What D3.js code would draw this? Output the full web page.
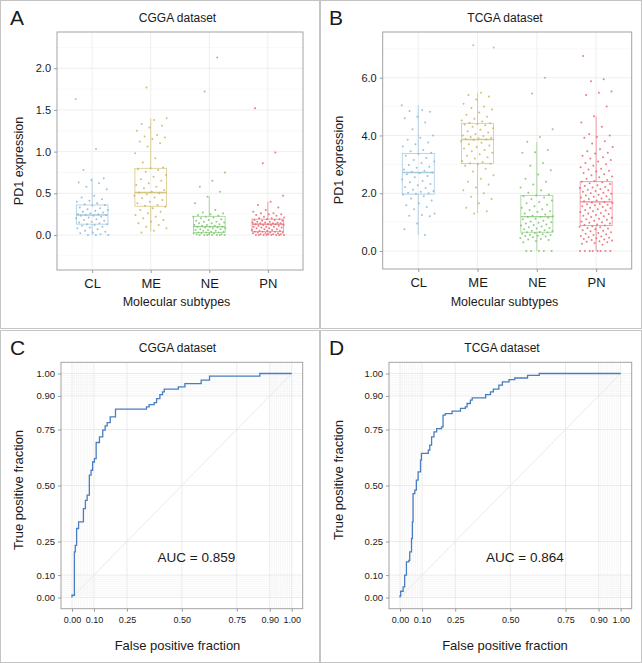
<!DOCTYPE html>
<html>
<head>
<meta charset="utf-8">
<script src="https://cdn.jsdelivr.net/npm/d3@7"></script>
<style>
body { margin: 0; background: #fff; }
svg { display: block; font-family: "Liberation Sans", Arial, sans-serif; }
</style>
</head>
<body>
<svg width="642" height="663"></svg>
<script>
// ---- data ----
var subtypes = ["CL", "ME", "NE", "PN"];
var subtypeColors = ["#8ab8d6", "#c9b65c", "#7dc46c", "#ea646f"];

// CGGA PD1 expression, one array per subtype
var cggaCL = [1.63, 1.03, 0.78, 0.68, 0.66, 0.63, 0.62, 0.58, 0.55, 0.47, 0.45, 0.43, 0.41, 0.40, 0.38, 0.37, 0.36,
  0.35, 0.33, 0.32, 0.31, 0.30, 0.29, 0.28, 0.27, 0.26, 0.25, 0.25, 0.24, 0.24, 0.23, 0.23, 0.22, 0.21, 0.20, 0.19,
  0.18, 0.17, 0.16, 0.15, 0.14, 0.13, 0.13, 0.12, 0.11, 0.10, 0.09, 0.08, 0.07, 0.05, 0.04, 0.03, 0.02, 0.01, 0.00,
  0.00, 0.00];
var cggaME = [1.77, 1.40, 1.38, 1.33, 1.31, 1.29, 1.25, 1.20, 1.18, 1.17, 1.15, 1.12, 1.10, 1.06, 0.98, 0.92, 0.87,
  0.81, 0.80, 0.79, 0.78, 0.76, 0.72, 0.70, 0.67, 0.65, 0.62, 0.60, 0.58, 0.56, 0.54, 0.52, 0.51, 0.50, 0.49, 0.47,
  0.45, 0.44, 0.42, 0.40, 0.38, 0.36, 0.35, 0.34, 0.32, 0.30, 0.28, 0.26, 0.24, 0.22, 0.20, 0.18, 0.16, 0.14, 0.12,
  0.10, 0.08, 0.05, 0.03];
var cggaNE = [2.13, 1.72, 0.75, 0.65, 0.58, 0.52, 0.46, 0.38, 0.30, 0.27, 0.26, 0.25, 0.24, 0.23, 0.22, 0.22, 0.21,
  0.20, 0.19, 0.18, 0.17, 0.16, 0.16, 0.15, 0.14, 0.14, 0.13, 0.12, 0.12, 0.11, 0.11, 0.10, 0.10, 0.10, 0.09, 0.09,
  0.08, 0.08, 0.07, 0.07, 0.06, 0.06, 0.05, 0.05, 0.04, 0.04, 0.03, 0.03, 0.03, 0.02, 0.02, 0.02, 0.01, 0.01, 0.01,
  0.00, 0.00, 0.00, 0.00, 0.00, 0.00, 0.00];
var cggaPN = [1.52, 0.99, 0.86, 0.47, 0.40, 0.36, 0.33, 0.30, 0.28, 0.26, 0.26, 0.25, 0.25, 0.24, 0.23, 0.22, 0.21,
  0.20, 0.20, 0.19, 0.19, 0.18, 0.18, 0.17, 0.17, 0.16, 0.16, 0.15, 0.15, 0.15, 0.14, 0.14, 0.14, 0.13, 0.13, 0.13,
  0.12, 0.12, 0.12, 0.11, 0.11, 0.10, 0.10, 0.10, 0.09, 0.09, 0.08, 0.08, 0.07, 0.07, 0.06, 0.06, 0.05, 0.05, 0.05,
  0.04, 0.04, 0.04, 0.03, 0.03, 0.03, 0.02, 0.02, 0.02, 0.01, 0.01, 0.01, 0.01, 0.00, 0.00, 0.00, 0.00, 0.00, 0.00,
  0.00, 0.00];

// TCGA PD1 expression
var tcgaCL = [5.05, 4.88, 4.85, 4.82, 4.65, 4.60, 4.45, 4.22, 4.00, 3.92, 3.85, 3.76, 3.70, 3.62, 3.50, 3.45, 3.40,
  3.36, 3.30, 3.22, 3.15, 3.10, 3.05, 2.98, 2.92, 2.88, 2.82, 2.78, 2.74, 2.72, 2.70, 2.66, 2.60, 2.55, 2.48, 2.42,
  2.38, 2.32, 2.28, 2.22, 2.18, 2.12, 2.08, 2.05, 2.02, 2.00, 1.98, 1.96, 1.90, 1.82, 1.75, 1.65, 1.58, 1.52, 1.45,
  1.30, 1.25, 1.22, 1.20, 0.95, 0.75, 0.55];
var tcgaME = [7.12, 7.05, 5.48, 5.40, 5.35, 5.25, 5.10, 5.00, 4.95, 4.90, 4.80, 4.72, 4.65, 4.58, 4.52, 4.48, 4.44,
  4.42, 4.40, 4.38, 4.35, 4.30, 4.25, 4.20, 4.15, 4.10, 4.05, 4.00, 3.98, 3.95, 3.92, 3.90, 3.88, 3.86, 3.84, 3.80,
  3.75, 3.70, 3.65, 3.60, 3.55, 3.50, 3.45, 3.40, 3.35, 3.30, 3.25, 3.20, 3.12, 3.08, 3.04, 3.02, 3.00, 2.95, 2.85,
  2.75, 2.62, 2.50, 2.40, 2.30, 2.20, 2.10, 2.00, 1.88, 1.80, 1.65, 1.50, 1.38, 1.30];
var tcgaNE = [6.00, 5.45, 4.22, 3.95, 3.78, 3.50, 3.42, 3.40, 3.05, 2.95, 2.80, 2.65, 2.50, 2.40, 2.30, 2.20, 2.10,
  2.02, 1.96, 1.92, 1.90, 1.85, 1.80, 1.75, 1.70, 1.65, 1.60, 1.55, 1.50, 1.45, 1.42, 1.38, 1.35, 1.30, 1.26, 1.22,
  1.20, 1.19, 1.18, 1.15, 1.12, 1.10, 1.05, 1.02, 1.00, 0.98, 0.95, 0.92, 0.90, 0.88, 0.85, 0.82, 0.80, 0.78, 0.75,
  0.72, 0.70, 0.68, 0.66, 0.65, 0.64, 0.62, 0.60, 0.58, 0.56, 0.55, 0.53, 0.52, 0.50, 0.48, 0.45, 0.42, 0.40, 0.38,
  0.35, 0.30, 0.00, 0.00, 0.00, 0.00, 0.00];
var tcgaPN = [6.75, 5.95, 5.88, 5.52, 5.48, 5.40, 5.00, 4.67, 4.45, 4.30, 4.05, 4.00, 3.95, 3.92, 3.80, 3.72, 3.60,
  3.52, 3.45, 3.40, 3.38, 3.30, 3.25, 3.20, 3.15, 3.10, 3.05, 3.00, 2.95, 2.90, 2.85, 2.82, 2.78, 2.75, 2.70, 2.66,
  2.62, 2.58, 2.55, 2.50, 2.46, 2.42, 2.40, 2.38, 2.35, 2.32, 2.28, 2.25, 2.22, 2.20, 2.18, 2.15, 2.12, 2.10, 2.08,
  2.05, 2.02, 2.00, 1.98, 1.95, 1.92, 1.90, 1.88, 1.85, 1.82, 1.80, 1.78, 1.75, 1.72, 1.70, 1.68, 1.66, 1.64, 1.62,
  1.60, 1.58, 1.55, 1.52, 1.50, 1.48, 1.45, 1.42, 1.40, 1.38, 1.35, 1.32, 1.30, 1.28, 1.25, 1.22, 1.20, 1.18, 1.15,
  1.12, 1.10, 1.08, 1.05, 1.02, 1.00, 0.98, 0.95, 0.92, 0.90, 0.88, 0.86, 0.84, 0.82, 0.80, 0.78, 0.75, 0.72, 0.70,
  0.68, 0.65, 0.62, 0.60, 0.58, 0.55, 0.52, 0.50, 0.48, 0.46, 0.44, 0.42, 0.40, 0.38, 0.36, 0.34, 0.32, 0.30, 0.28,
  0.25, 0.22, 0.00, 0.00, 0.00, 0.00, 0.00, 0.00, 0.00, 0.00];

// box stats per subtype: [lower whisker, q1, median, q3, upper whisker]
var cggaBox = [[0.00, 0.13, 0.24, 0.36, 0.68], [0.04, 0.345, 0.51, 0.80, 1.40],
  [0.00, 0.03, 0.10, 0.224, 0.46], [0.00, 0.04, 0.13, 0.19, 0.40]];
var tcgaBox = [[0.55, 1.97, 2.72, 3.38, 5.05], [1.30, 3.03, 3.86, 4.42, 5.48],
  [0.00, 0.65, 1.19, 1.92, 3.78], [0.00, 0.88, 1.70, 2.40, 4.67]];

var cggaTicks = [0, 0.5, 1, 1.5, 2];
var cggaMinor = [-0.25, 0.25, 0.75, 1.25, 1.75, 2.25];
var tcgaTicks = [0, 2, 4, 6];
var tcgaMinor = [1, 3, 5, 7];

// ROC curves [false positive fraction, true positive fraction]
var cggaRoc = [[0, 0], [0, 0.010], [0.011, 0.204], [0.015, 0.233], [0.021, 0.308], [0.030, 0.338], [0.052, 0.397],
  [0.061, 0.434], [0.069, 0.457], [0.079, 0.546], [0.087, 0.568], [0.094, 0.605], [0.102, 0.620], [0.110, 0.692],
  [0.125, 0.717], [0.140, 0.747], [0.151, 0.766], [0.160, 0.781], [0.174, 0.806], [0.198, 0.841], [0.339, 0.851],
  [0.351, 0.861], [0.374, 0.870], [0.385, 0.888], [0.400, 0.906], [0.412, 0.918], [0.420, 0.930], [0.484, 0.940],
  [0.514, 0.955], [0.588, 0.970], [0.626, 0.988], [0.855, 1.000], [1.000, 1.000]];
var tcgaRoc = [[0, 0], [0, 0.007], [0.003, 0.028], [0.014, 0.047], [0.021, 0.100], [0.029, 0.159], [0.040, 0.166],
  [0.044, 0.204], [0.052, 0.263], [0.056, 0.338], [0.059, 0.464], [0.067, 0.479], [0.074, 0.524], [0.082, 0.561],
  [0.093, 0.613], [0.097, 0.643], [0.128, 0.658], [0.135, 0.680], [0.143, 0.717], [0.154, 0.739], [0.166, 0.754],
  [0.188, 0.762], [0.195, 0.814], [0.205, 0.821], [0.236, 0.832], [0.274, 0.844], [0.296, 0.851], [0.304, 0.866],
  [0.319, 0.881], [0.327, 0.891], [0.388, 0.906], [0.410, 0.918], [0.423, 0.930], [0.448, 0.948], [0.464, 0.963],
  [0.494, 0.973], [0.520, 0.980], [0.578, 0.992], [0.631, 1.000], [1.000, 1.000]];
var rocBreaks = [0, 0.1, 0.25, 0.5, 0.75, 0.9, 1];
var rocMinor = [0.01, 0.02, 0.03, 0.04, 0.05, 0.06, 0.07, 0.08, 0.09, 0.91, 0.92, 0.93, 0.94, 0.95, 0.96, 0.97, 0.98, 0.99];

var svg = d3.select('svg');

// panel frames
svg.selectAll('.frame')
    .data([[0.5, 0.5, 319, 328], [320.5, 0.5, 321, 328], [0.5, 330.5, 319, 332], [320.5, 330.5, 321, 332]])
    .enter().append('rect')
    .attr('x', function(d) { return d[0]; })
    .attr('y', function(d) { return d[1]; })
    .attr('width', function(d) { return d[2]; })
    .attr('height', function(d) { return d[3]; })
    .attr('fill', 'none')
    .attr('stroke', '#c4c4c4')
    .attr('stroke-width', 1);

function addText(x, y, str, size, opts) {
    opts = opts || {};
    var t = svg.append('text')
        .attr('x', x).attr('y', y)
        .attr('font-size', size)
        .attr('fill', opts.fill || '#1a1a1a')
        .attr('text-anchor', opts.anchor || 'middle')
        .attr('dominant-baseline', 'central')
        .text(str);
    if (opts.rotate) t.attr('transform', 'rotate(-90,' + x + ',' + y + ')');
    return t;
}

function hLines(g, vals, y, x0, x1, color, w) {
    g.selectAll(null).data(vals).enter().append('line')
        .attr('x1', x0).attr('x2', x1)
        .attr('y1', function(d) { return y(d); })
        .attr('y2', function(d) { return y(d); })
        .attr('stroke', color).attr('stroke-width', w);
}
function vLines(g, vals, x, y0, y1, color, w) {
    g.selectAll(null).data(vals).enter().append('line')
        .attr('y1', y0).attr('y2', y1)
        .attr('x1', function(d) { return x(d); })
        .attr('x2', function(d) { return x(d); })
        .attr('stroke', color).attr('stroke-width', w);
}

function styleAxis(axisG, size) {
    axisG.select('.domain').remove();
    axisG.selectAll('.tick line').attr('stroke', '#9a9a9a');
    axisG.selectAll('.tick text').attr('font-size', size).attr('fill', '#1a1a1a')
        .attr('font-family', '"Liberation Sans", Arial, sans-serif');
}

function drawBoxPanel(o) {
    var x = d3.scaleLinear().domain([0.4, 4.6]).range([o.left, o.right]);
    var y = d3.scaleLinear().domain(o.yDomain).range([o.bottom, o.top]);
    var g = svg.append('g');

    hLines(g, o.minor, y, o.left, o.right, '#f4f4f4', 0.6);
    hLines(g, o.ticks, y, o.left, o.right, '#ebebeb', 0.8);
    vLines(g, [1, 2, 3, 4], x, o.top, o.bottom, '#ebebeb', 0.8);

    var halfW = 0.27;
    o.box.forEach(function(b, i) {
        var c = subtypeColors[i], cx = i + 1;
        var bg = g.append('g').attr('stroke', c).attr('fill', 'none').attr('stroke-opacity', 0.75);
        bg.append('line').attr('x1', x(cx)).attr('x2', x(cx)).attr('y1', y(b[3])).attr('y2', y(b[4])).attr('stroke-width', 0.8);
        bg.append('line').attr('x1', x(cx)).attr('x2', x(cx)).attr('y1', y(b[1])).attr('y2', y(b[0])).attr('stroke-width', 0.8);
        bg.append('rect').attr('x', x(cx - halfW)).attr('width', x(cx + halfW) - x(cx - halfW))
            .attr('y', y(b[3])).attr('height', y(b[1]) - y(b[3])).attr('stroke-width', 0.8);
        bg.append('line').attr('x1', x(cx - halfW)).attr('x2', x(cx + halfW))
            .attr('y1', y(b[2])).attr('y2', y(b[2])).attr('stroke-width', 1.4);
    });

    o.values.forEach(function(vals, i) {
        var cx = i + 1;
        g.selectAll(null).data(vals).enter().append('circle')
            .attr('cx', function(d, j) { return x(cx + ((j * 0.618034 + i * 0.37) % 1 - 0.5) * 0.56); })
            .attr('cy', function(d) { return y(d); })
            .attr('r', 1)
            .attr('fill', subtypeColors[i])
            .attr('fill-opacity', 0.85);
    });

    g.append('rect').attr('x', o.left).attr('y', o.top)
        .attr('width', o.right - o.left).attr('height', o.bottom - o.top)
        .attr('fill', 'none').attr('stroke', '#a3a3a3').attr('stroke-width', 1);

    var ya = g.append('g').attr('transform', 'translate(' + o.left + ',0)')
        .call(d3.axisLeft(y).tickValues(o.ticks).tickFormat(d3.format('.1f')).tickSize(3).tickPadding(3));
    styleAxis(ya, 11);
    var xa = g.append('g').attr('transform', 'translate(0,' + o.bottom + ')')
        .call(d3.axisBottom(x).tickValues([1, 2, 3, 4]).tickFormat(function(d) { return subtypes[d - 1]; })
            .tickSize(3).tickPadding(6));
    styleAxis(xa, 13);
}

function drawRocPanel(o) {
    var x = d3.scaleLinear().domain([-0.05, 1.05]).range([o.left, o.right]);
    var y = d3.scaleLinear().domain([-0.05, 1.05]).range([o.bottom, o.top]);
    var g = svg.append('g');

    hLines(g, rocMinor, y, o.left, o.right, '#f1f1f1', 0.6);
    vLines(g, rocMinor, x, o.top, o.bottom, '#f1f1f1', 0.6);
    hLines(g, rocBreaks, y, o.left, o.right, '#e6e6e6', 0.8);
    vLines(g, rocBreaks, x, o.top, o.bottom, '#e6e6e6', 0.8);

    g.append('line').attr('x1', x(0)).attr('y1', y(0)).attr('x2', x(1)).attr('y2', y(1))
        .attr('stroke', '#e4e4e4').attr('stroke-width', 0.8);

    var line = d3.line()
        .x(function(d) { return x(d[0]); })
        .y(function(d) { return y(d[1]); })
        .curve(d3.curveStepAfter);
    g.append('path').datum(o.roc).attr('d', line)
        .attr('fill', 'none').attr('stroke', '#4a7dbf').attr('stroke-width', 1.3);

    g.append('rect').attr('x', o.left).attr('y', o.top)
        .attr('width', o.right - o.left).attr('height', o.bottom - o.top)
        .attr('fill', 'none').attr('stroke', '#a3a3a3').attr('stroke-width', 1);

    var ya = g.append('g').attr('transform', 'translate(' + o.left + ',0)')
        .call(d3.axisLeft(y).tickValues(rocBreaks).tickFormat(d3.format('.2f')).tickSize(3).tickPadding(3));
    styleAxis(ya, 9.5);
    var xa = g.append('g').attr('transform', 'translate(0,' + o.bottom + ')')
        .call(d3.axisBottom(x).tickValues(rocBreaks).tickFormat(d3.format('.2f')).tickSize(3).tickPadding(5));
    styleAxis(xa, 9);

    svg.append('text')
        .attr('x', x(0.566)).attr('y', y(0.18))
        .attr('font-size', 13.5).attr('fill', '#1a1a1a')
        .attr('text-anchor', 'middle').attr('dominant-baseline', 'central')
        .text(o.auc);
}

drawBoxPanel({left: 57, right: 303, top: 32, bottom: 270, yDomain: [-0.42, 2.435],
    ticks: cggaTicks, minor: cggaMinor, box: cggaBox, values: [cggaCL, cggaME, cggaNE, cggaPN]});
drawBoxPanel({left: 382.7, right: 631.7, top: 32, bottom: 269, yDomain: [-0.623, 7.583],
    ticks: tcgaTicks, minor: tcgaMinor, box: tcgaBox, values: [tcgaCL, tcgaME, tcgaNE, tcgaPN]});
drawRocPanel({left: 61, right: 302.7, top: 362.3, bottom: 608.7, roc: cggaRoc, auc: 'AUC = 0.859'});
drawRocPanel({left: 389, right: 631.7, top: 362.3, bottom: 608.7, roc: tcgaRoc, auc: 'AUC = 0.864'});

// panel letters, titles, axis titles
addText(10, 17, 'A', 21, {anchor: 'start'});
addText(329, 17, 'B', 21, {anchor: 'start'});
addText(10, 347, 'C', 21, {anchor: 'start'});
addText(329, 347, 'D', 21, {anchor: 'start'});

addText(177.5, 17.5, 'CGGA dataset', 12);
addText(505, 17.5, 'TCGA dataset', 12);
addText(177.5, 347.5, 'CGGA dataset', 12);
addText(502, 347.5, 'TCGA dataset', 12);

addText(176.5, 301.5, 'Molecular subtypes', 12.5);
addText(504.5, 301.5, 'Molecular subtypes', 12.5);
addText(18.5, 161, 'PD1 expression', 12.5, {rotate: true});
addText(338.5, 160, 'PD1 expression', 12.5, {rotate: true});

addText(177.5, 645, 'False positive fraction', 13);
addText(505, 645, 'False positive fraction', 13);
addText(18.5, 490, 'True positive fraction', 13, {rotate: true});
addText(338.5, 480, 'True positive fraction', 13, {rotate: true});
</script>
</body>
</html>
